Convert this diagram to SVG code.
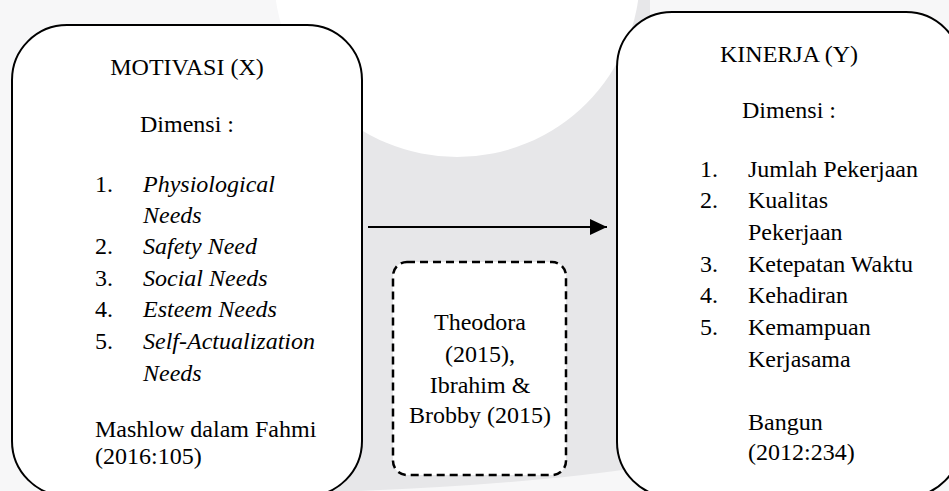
<svg xmlns="http://www.w3.org/2000/svg" width="949" height="491" viewBox="0 0 949 491">
  <style>
    .box { fill: #ffffff; stroke: #000000; stroke-width: 2; }
    .dash { fill: #ffffff; stroke: #000000; stroke-width: 2.5; stroke-dasharray: 8 5; }
    text { font-family: "Times New Roman", Times, "Liberation Serif", "DejaVu Serif", serif; font-size: 24px; fill: #000000; }
    .c { text-anchor: middle; }
    .i { font-style: italic; }
  </style>
  <defs>
    <marker id="arrow" markerWidth="17" markerHeight="16" refX="17" refY="8" orient="auto" markerUnits="userSpaceOnUse">
      <path d="M0,0 L17,8 L0,16 Z" fill="#000000"/>
    </marker>
  </defs>

  <g id="watermark">
    <rect x="0" y="0" width="949" height="491" fill="#f7f7f8"/>
    <path d="M330,0 L650,0 L650,466 Q520,486 330,492 Z" fill="#e7e7e9"/>
    <circle cx="457" cy="-26" r="183" fill="#ffffff"/>
  </g>

  <g id="connectors">
    <line x1="368" y1="227" x2="607" y2="227" stroke="#000000" stroke-width="2" marker-end="url(#arrow)"/>
  </g>

  <g id="motivasi">
    <rect class="box" x="12" y="25" width="350" height="471" rx="55" ry="55"/>
    <text class="c" x="187" y="75">MOTIVASI (X)</text>
    <text class="c" x="187" y="132">Dimensi :</text>
    <text x="95" y="192">1.</text><text class="i" x="143" y="192">Physiological</text>
    <text class="i" x="143" y="223">Needs</text>
    <text x="95" y="254">2.</text><text class="i" x="143" y="254">Safety Need</text>
    <text x="95" y="286">3.</text><text class="i" x="143" y="286">Social Needs</text>
    <text x="95" y="317">4.</text><text class="i" x="143" y="317">Esteem Needs</text>
    <text x="95" y="349">5.</text><text class="i" x="143" y="349">Self-Actualization</text>
    <text class="i" x="143" y="381">Needs</text>
    <text x="95" y="437">Mashlow dalam Fahmi</text>
    <text x="95" y="464">(2016:105)</text>
  </g>

  <g id="sumber">
    <rect class="dash" x="393" y="262" width="173" height="213" rx="14" ry="14"/>
    <text class="c" x="480" y="330">Theodora</text>
    <text class="c" x="480" y="362">(2015),</text>
    <text class="c" x="480" y="393">Ibrahim &amp;</text>
    <text class="c" x="480" y="423">Brobby (2015)</text>
  </g>

  <g id="kinerja">
    <rect class="box" x="617" y="12" width="344" height="485" rx="55" ry="55"/>
    <text class="c" x="789" y="62">KINERJA (Y)</text>
    <text class="c" x="789" y="118">Dimensi :</text>
    <text x="700" y="177">1.</text><text x="748" y="177">Jumlah Pekerjaan</text>
    <text x="700" y="208">2.</text><text x="748" y="208">Kualitas</text>
    <text x="748" y="240">Pekerjaan</text>
    <text x="700" y="272">3.</text><text x="748" y="272">Ketepatan Waktu</text>
    <text x="700" y="303">4.</text><text x="748" y="303">Kehadiran</text>
    <text x="700" y="335">5.</text><text x="748" y="335">Kemampuan</text>
    <text x="748" y="367">Kerjasama</text>
    <text x="748" y="430">Bangun</text>
    <text x="748" y="460">(2012:234)</text>
  </g>
</svg>
